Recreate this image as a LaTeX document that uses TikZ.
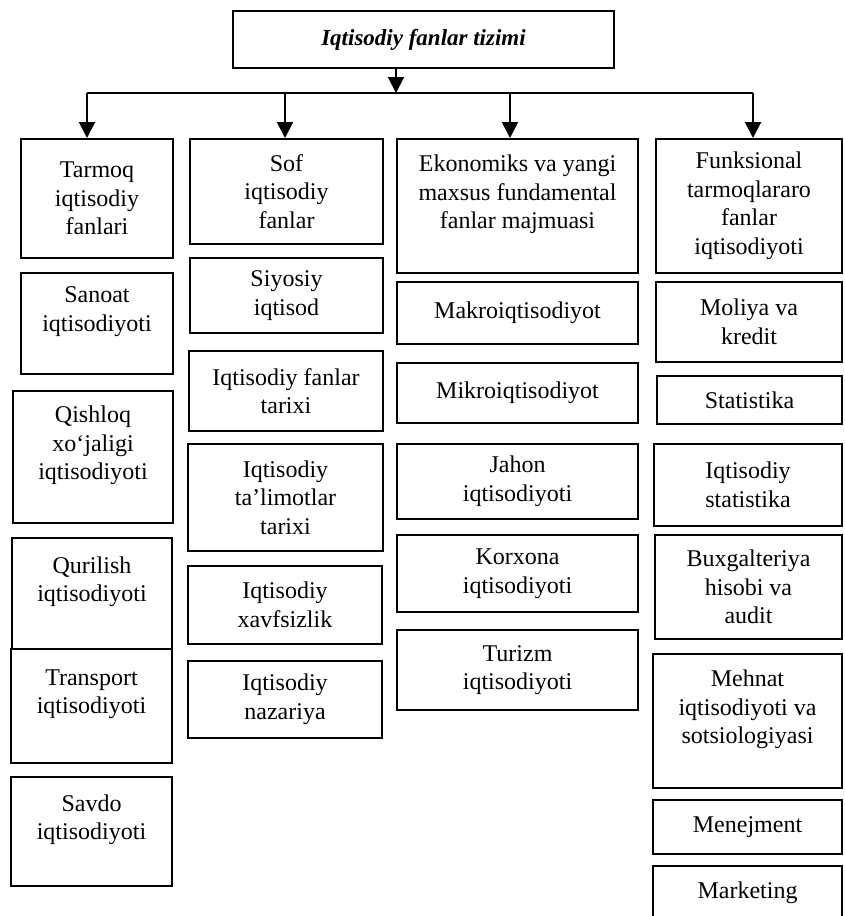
\documentclass[tikz,border=0pt]{standalone}
\usepackage{fontspec}
\setmainfont{Liberation Serif}
\usetikzlibrary{arrows.meta}

\tikzset{
  cell/.style={draw, line width=2pt, anchor=north west, inner sep=0pt,
    align=center, font=\fontsize{24}{28.5}\selectfont},
  link/.style={line width=2pt, -{Triangle[length=16pt,width=16pt]}}
}

\begin{document}
\begin{tikzpicture}[x=1pt, y=-1pt]
    \useasboundingbox (0,0) rectangle (844,916);
    % tizim
    \node[cell, minimum width=381pt, minimum height=57pt,
      font=\fontsize{23}{27}\selectfont\bfseries\itshape] (title) at (232,10)
      {Iqtisodiy fanlar tizimi};

    % tarmoq fanlari
    \node[cell, minimum width=152pt, minimum height=119pt] (tarmoq) at (20,138) {Tarmoq\\iqtisodiy\\fanlari};
    \node[cell, minimum width=152pt, minimum height=101pt] (sanoat) at (20,272) {Sanoat\\iqtisodiyoti\\\mbox{}};
    \node[cell, minimum width=160pt, minimum height=132pt] (qishloq) at (12,390) {Qishloq\\xo‘jaligi\\iqtisodiyoti\\\mbox{}};
    \node[cell, minimum width=160pt, minimum height=111pt] (qurilish) at (11,537) {Qurilish\\iqtisodiyoti\\\mbox{}};
    \node[cell, minimum width=161pt, minimum height=114pt] (transport) at (10,648) {Transport\\iqtisodiyoti\\\mbox{}};
    \node[cell, minimum width=161pt, minimum height=109pt] (savdo) at (10,776) {Savdo\\iqtisodiyoti\\\mbox{}};

    % sof fanlar
    \node[cell, minimum width=193pt, minimum height=105pt] (sof) at (189,138) {Sof\\iqtisodiy\\fanlar};
    \node[cell, minimum width=193pt, minimum height=75pt] (siyosiy) at (189,257) {Siyosiy\\iqtisod};
    \node[cell, minimum width=194pt, minimum height=80pt] (tarix) at (188,350) {Iqtisodiy fanlar\\tarixi};
    \node[cell, minimum width=195pt, minimum height=107pt] (talimot) at (187,443) {Iqtisodiy\\ta’limotlar\\tarixi};
    \node[cell, minimum width=194pt, minimum height=78pt] (xavf) at (187,565) {Iqtisodiy\\xavfsizlik};
    \node[cell, minimum width=194pt, minimum height=77pt] (nazariya) at (187,660) {Iqtisodiy\\nazariya};

    % ekonomiks
    \node[cell, minimum width=241pt, minimum height=134pt] (ekonomiks) at (396,138) {Ekonomiks va yangi\\maxsus fundamental\\fanlar majmuasi\\\mbox{}};
    \node[cell, minimum width=241pt, minimum height=62pt] (makro) at (396,281) {Makroiqtisodiyot};
    \node[cell, minimum width=241pt, minimum height=60pt] (mikro) at (396,362) {Mikroiqtisodiyot};
    \node[cell, minimum width=241pt, minimum height=75pt] (jahon) at (396,443) {Jahon\\iqtisodiyoti};
    \node[cell, minimum width=241pt, minimum height=77pt] (korxona) at (396,534) {Korxona\\iqtisodiyoti};
    \node[cell, minimum width=241pt, minimum height=80pt] (turizm) at (396,629) {Turizm\\iqtisodiyoti};

    % funksional fanlar
    \node[cell, minimum width=186pt, minimum height=134pt] (funksional) at (655,138) {Funksional\\tarmoqlararo\\fanlar\\iqtisodiyoti};
    \node[cell, minimum width=186pt, minimum height=80pt] (moliya) at (655,281) {Moliya va\\kredit};
    \node[cell, minimum width=185pt, minimum height=48pt] (statistika) at (656,375) {Statistika};
    \node[cell, minimum width=188pt, minimum height=82pt] (iqstat) at (653,443) {Iqtisodiy\\statistika};
    \node[cell, minimum width=187pt, minimum height=104pt] (buxg) at (654,534) {Buxgalteriya\\hisobi va\\audit};
    \node[cell, minimum width=189pt, minimum height=134pt] (mehnat) at (652,653) {Mehnat\\iqtisodiyoti va\\sotsiologiyasi\\\mbox{}};
    \node[cell, minimum width=189pt, minimum height=54pt] (menejment) at (652,799) {Menejment};
    \node[cell, minimum width=189pt, minimum height=54pt] (marketing) at (652,865) {Marketing};

    % strelkalar
    \coordinate (hub) at (396,93);
    \coordinate (bus-a) at (87,93);
    \coordinate (bus-b) at (285,93);
    \coordinate (bus-c) at (510,93);
    \coordinate (bus-d) at (753,93);
    \draw[link] (title.south -| hub) -- (hub);
    \draw[line width=2pt] (bus-a) -- (bus-d);
    \draw[link] (bus-a) -- (bus-a |- tarmoq.north);
    \draw[link] (bus-b) -- (bus-b |- sof.north);
    \draw[link] (bus-c) -- (bus-c |- ekonomiks.north);
    \draw[link] (bus-d) -- (bus-d |- funksional.north);
\end{tikzpicture}
\end{document}
